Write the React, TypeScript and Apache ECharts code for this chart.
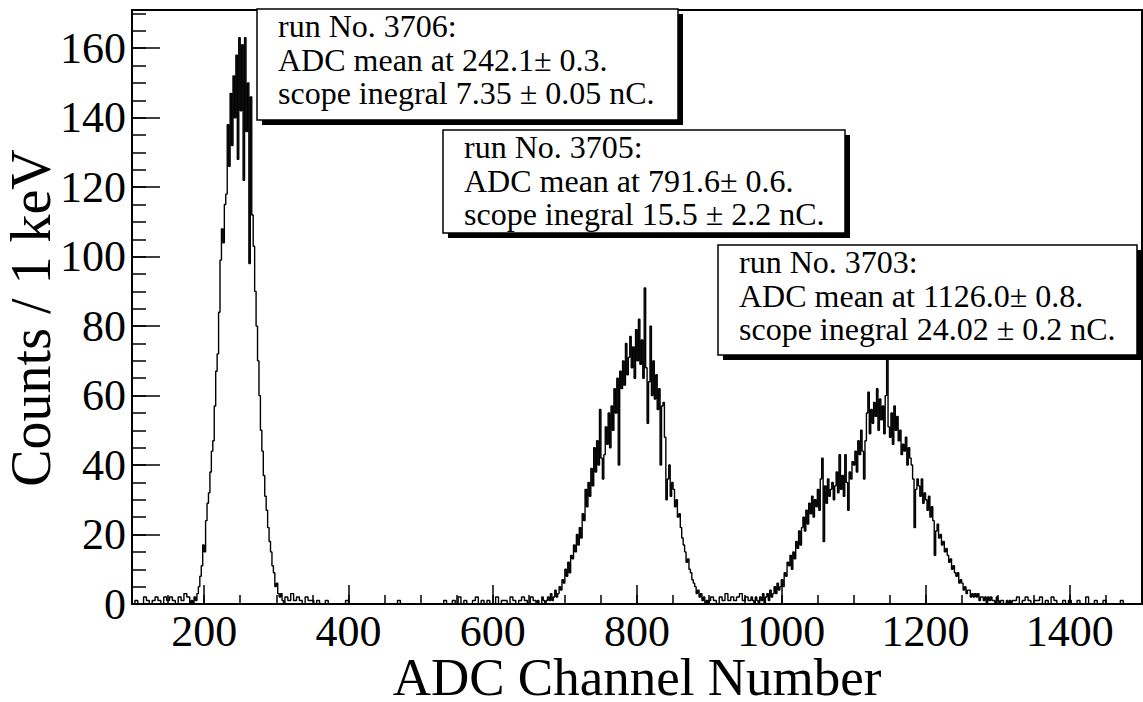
import React, { useEffect, useRef } from "react";
import * as echarts from "echarts";

// ---- axis ticks / labels ----
const xMajorTicks = [200, 400, 600, 800, 1000, 1200, 1400];
const yMajorTicks = [0, 20, 40, 60, 80, 100, 120, 140, 160];
const xMinorTicks: number[] = [];
for (let v = 150; v <= 1450; v += 50) xMinorTicks.push(v);
const yMinorTicks: number[] = [];
for (let v = 5; v <= 170; v += 5) yMinorTicks.push(v);

// ---- histogram contents (counts per bin) ----
// background before first peak, channels 100..176 step 4
const bgA = [0, 1, 0, 0, 2, 1, 0, 1, 2, 1, 0, 2, 1, 2, 1, 0, 2, 1, 3, 2];
// run 3706 peak, channels 180..310 step 2
const peak3706 = [
  0, 1, 0, 2, 1, 3, 5, 8, 11, 17,
  15, 24, 29, 32, 38, 44, 47, 57, 67, 72,
  84, 99, 108, 104, 115, 118, 138, 126, 147, 132,
  152, 140, 158, 128, 163, 142, 161, 122, 163, 136,
  150, 98, 146, 112, 103, 90, 80, 70, 60, 50,
  44, 37, 31, 27, 22, 18, 15, 11, 9, 5,
  6, 3, 2, 3, 1, 0,
];
// background between peaks, channels 312..656 step 4
const bgB = [
  2, 1, 3, 1, 2, 1, 0, 2, 1, 1, 0, 1,
  0, 0, 1, 0, 0, 0, 0, 0, 0, 1,
  0, 0, 0, 0, 0, 0, 0, 0, 0, 0,
  0, 0, 0, 0, 0, 0, 0, 1, 0, 0,
  0, 0, 0, 0, 0, 0, 0, 0, 0, 0,
  0, 0, 0, 1, 0, 0,
  1, 0, 2, 0, 1, 0, 0, 1, 2, 0,
  1, 0, 1, 0, 0, 2, 0, 1, 1, 0,
  2, 1, 0, 1, 2, 1, 0, 2, 1,
];
// run 3705 peak, channels 660..900 step 2
const peak3705 = [
  0, 1, 0, 0, 2, 1, 0, 1, 2, 1,
  3, 1, 2, 4, 2, 3, 5, 4, 7, 6,
  10, 8, 12, 9, 14, 13, 17, 15, 20, 17,
  22, 19, 26, 24, 33, 28, 35, 31, 39, 34,
  45, 38, 47, 40, 56, 42, 36, 43, 51, 46,
  55, 45, 57, 50, 62, 55, 65, 40, 67, 62,
  70, 63, 75, 66, 71, 77, 68, 74, 65, 79,
  70, 82, 69, 76, 65, 91, 68, 52, 64, 80,
  60, 70, 59, 66, 56, 62, 40, 57, 58, 48,
  30, 36, 40, 31, 35, 33, 28, 30, 25, 26,
  22, 19, 17, 15, 12, 13, 10, 9, 7, 6,
  5, 3, 4, 2, 3, 1, 2, 0, 1, 0,
  1,
];
// background between runs 3705 and 3703, channels 902..958 step 4
const bgC = [2, 1, 0, 2, 1, 3, 1, 2, 1, 2, 3, 1, 2, 1, 2];
// run 3703 peak, channels 960..1320 step 2
const peak3703 = [
  1, 0, 2, 1, 0, 2, 1, 3, 0, 2,
  3, 1, 4, 2, 3, 5, 3, 6, 4, 5,
  7, 5, 9, 8, 12, 11, 14, 10, 15, 13,
  18, 16, 21, 17, 22, 25, 21, 27, 23, 29,
  26, 31, 25, 30, 28, 33, 27, 36, 42, 18,
  34, 29, 36, 31, 33, 35, 30, 34, 38, 32,
  43, 33, 37, 31, 43, 35, 27, 38, 36, 41,
  40, 44, 38, 47, 43, 50, 44, 36, 47, 55,
  61, 49, 56, 52, 58, 54, 62, 50, 59, 53,
  57, 49, 60, 71, 51, 48, 55, 46, 57, 50,
  54, 47, 50, 43, 46, 44, 48, 40, 45, 42,
  40, 36, 22, 33, 36, 34, 31, 36, 29, 32,
  30, 27, 31, 25, 28, 24, 14, 21, 23, 19,
  20, 17, 18, 15, 16, 14, 12, 13, 10, 11,
  9, 8, 9, 6, 7, 6, 4, 5, 3, 4,
  4, 2, 3, 2, 3, 2, 3, 1, 2, 2,
  1, 2, 0, 2, 1, 2, 1, 1, 0, 2,
  1, 0, 1, 1, 0, 0, 1, 0, 1, 0,
  1,
];
// tail, channels 1322..1498 step 4
const bgD = [
  1, 2, 0, 1, 2, 1, 0, 1, 1, 2,
  0, 1, 0, 2, 1, 0, 0, 1, 0, 1,
  0, 0, 1, 0, 0, 2, 0, 0, 1, 0,
  0, 1, 0, 0, 0, 0, 0, 1, 0, 0,
  0, 0, 0, 0, 0,
];

// [first channel, bin width, contents]
const segments: [number, number, number[]][] = [
  [100, 4, bgA],
  [180, 2, peak3706],
  [312, 4, bgB],
  [660, 2, peak3705],
  [902, 4, bgC],
  [960, 2, peak3703],
  [1322, 4, bgD],
];

const box3706 = ["run No. 3706:", "ADC mean at 242.1± 0.3.", "scope inegral 7.35 ± 0.05 nC."];
const box3705 = ["run No. 3705:", "ADC mean at 791.6± 0.6.", "scope inegral 15.5 ± 2.2 nC."];
const box3703 = ["run No. 3703:", "ADC mean at 1126.0± 0.8.", "scope inegral 24.02 ± 0.2 nC."];

const X_TITLE = "ADC Channel Number";
const Y_TITLE = "Counts / 1 keV";

const FONT = "Liberation Serif";

function buildData(): [number, number][] {
  const out: [number, number][] = [];
  for (const [start, step, vals] of segments) {
    vals.forEach((v, i) => out.push([start + i * step, v]));
  }
  out.push([1500, out[out.length - 1][1]]);
  return out;
}

function box(x: number, y: number, w: number, h: number, lines: string[]) {
  return {
    type: "group",
    z: 100,
    children: [
      { type: "rect", z: 100, shape: { x: x + 5, y: y + 5, width: w, height: h }, style: { fill: "#000" } },
      { type: "rect", z: 101, shape: { x, y, width: w, height: h }, style: { fill: "#fff", stroke: "#000", lineWidth: 1.5 } },
      ...lines.map((t, i) => ({
        type: "text",
        z: 102,
        x: x + 21,
        y: y + 17 + i * 33.5,
        style: { text: t, fontSize: 32, fontFamily: FONT, fill: "#000", verticalAlign: "middle", align: "left" },
      })),
    ],
  };
}

export default function App() {
  const ref = useRef<HTMLDivElement>(null);
  useEffect(() => {
    if (!ref.current) return;
    const chart = echarts.init(ref.current, undefined, { renderer: "svg" });
    const axisText = { color: "#000", fontSize: 44, fontFamily: FONT };
    const fmt = (v: number) => String(v);
    const option = {
      animation: false,
      backgroundColor: "#fff",
      textStyle: { fontFamily: FONT },
      grid: {
        left: 132, right: 1, top: 10, bottom: 98,
        show: true, borderColor: "#000", borderWidth: 2,
        containLabel: false, outerBoundsMode: "none",
      },
      xAxis: [
        {
          type: "value", min: 100, max: 1500, position: "bottom",
          axisLine: { lineStyle: { color: "#000", width: 2 } },
          axisTick: { inside: true, length: 19, customValues: xMajorTicks, lineStyle: { color: "#000", width: 1.5 } },
          axisLabel: { customValues: xMajorTicks, margin: 5, formatter: fmt, ...axisText },
          splitLine: { show: false },
        },
        {
          type: "value", min: 100, max: 1500, position: "bottom",
          axisLine: { show: false },
          axisTick: { inside: true, length: 9, customValues: xMinorTicks, lineStyle: { color: "#000", width: 1.5 } },
          axisLabel: { show: false },
          splitLine: { show: false },
        },
      ],
      yAxis: [
        {
          type: "value", min: 0, max: 171, position: "left",
          axisLine: { show: true, lineStyle: { color: "#000", width: 2 } },
          axisTick: { show: true, inside: true, length: 28, customValues: yMajorTicks, lineStyle: { color: "#000", width: 1.5 } },
          axisLabel: { customValues: yMajorTicks, margin: 6, formatter: fmt, ...axisText },
          splitLine: { show: false },
        },
        {
          type: "value", min: 0, max: 171, position: "left",
          axisLine: { show: false },
          axisTick: { show: true, inside: true, length: 14, customValues: yMinorTicks, lineStyle: { color: "#000", width: 1.5 } },
          axisLabel: { show: false },
          splitLine: { show: false },
        },
      ],
      series: [
        {
          type: "line",
          xAxisIndex: 0,
          yAxisIndex: 0,
          step: "end",
          showSymbol: false,
          symbol: "none",
          data: buildData(),
          lineStyle: { color: "#000", width: 1.4 },
          z: 3,
        },
      ],
      graphic: [
        {
          type: "text",
          x: 31,
          y: 318,
          rotation: Math.PI / 2,
          style: { text: Y_TITLE, fontSize: 56, fontFamily: FONT, fill: "#000", align: "center", verticalAlign: "middle" },
        },
        {
          type: "text",
          x: 637,
          y: 677,
          style: { text: X_TITLE, fontSize: 53, lineHeight: 40, fontFamily: FONT, fill: "#000", align: "center", verticalAlign: "middle" },
        },
        box(257, 9, 421, 111, box3706),
        box(443, 130, 402, 103, box3705),
        box(718, 245, 419, 110, box3703),
      ],
    };
    chart.setOption(option as any);
    return () => chart.dispose();
  }, []);
  return (
    <div
      ref={ref}
      style={{ position: "fixed", left: 0, top: 0, width: 1143, height: 702, background: "#fff" }}
    />
  );
}
